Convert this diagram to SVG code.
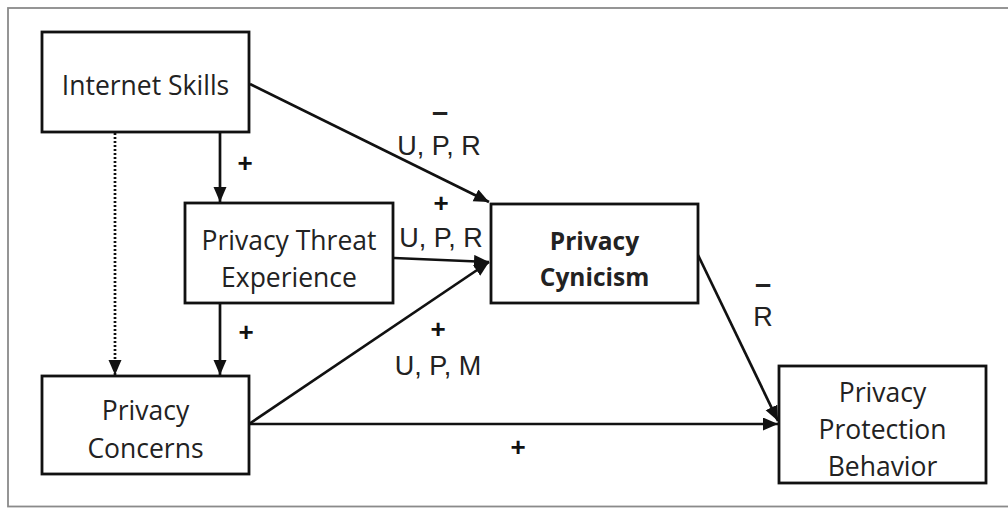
<svg xmlns="http://www.w3.org/2000/svg" width="1008" height="508" viewBox="0 0 1008 508">
<defs>
<marker id="ah" markerUnits="userSpaceOnUse" markerWidth="16" markerHeight="14" refX="15" refY="6.5" orient="auto">
<path d="M0,0 L15,6.5 L0,13 z" fill="#111"/>
</marker>
<style>
.box{fill:#fff;stroke:#111;stroke-width:2.8}
.t{font-family:"Open Sans","Noto Sans",sans-serif;font-size:26.5px;fill:#222;text-anchor:middle}
.tb{font-family:"Open Sans","Noto Sans",sans-serif;font-size:24.5px;font-weight:bold;fill:#222;text-anchor:middle}
.lbl{font-family:"Liberation Sans",Arial,sans-serif;font-size:27px;fill:#222;text-anchor:middle}
.mn{font-family:"Liberation Sans",Arial,sans-serif;font-size:29px;font-weight:bold;fill:#222;text-anchor:middle}
.sg{font-family:"Liberation Sans",Arial,sans-serif;font-size:26px;font-weight:bold;fill:#111;text-anchor:middle}
.c{stroke:#111;stroke-width:2.7;fill:none}
</style>
</defs>
<rect x="8" y="8" width="1010" height="498.5" fill="#fff" stroke="#8a8a8a" stroke-width="1.8"/>
<g id="connectors">
<line class="c" x1="250" y1="84" x2="489" y2="202" marker-end="url(#ah)"/>
<line class="c" x1="394" y1="258" x2="489" y2="262" marker-end="url(#ah)"/>
<line class="c" x1="249" y1="424" x2="489" y2="262" marker-end="url(#ah)"/>
<line class="c" x1="249" y1="424" x2="778" y2="424" marker-end="url(#ah)"/>
<line class="c" x1="698" y1="255" x2="778" y2="421" marker-end="url(#ah)"/>
<line class="c" x1="220" y1="133" x2="220" y2="202" marker-end="url(#ah)"/>
<line class="c" x1="220" y1="304" x2="220" y2="375" marker-end="url(#ah)"/>
<line class="c" x1="115" y1="133" x2="115" y2="375" stroke-width="3" stroke-dasharray="2,2" marker-end="url(#ah)"/>
<text class="mn" x="440" y="122">–</text>
<text class="lbl" x="439" y="155">U, P, R</text>
<text class="sg" x="441" y="212">+</text>
<text class="lbl" x="441" y="247">U, P, R</text>
<text class="sg" x="245" y="172">+</text>
<text class="sg" x="246" y="341">+</text>
<text class="sg" x="438" y="338">+</text>
<text class="lbl" x="438" y="375">U, P, M</text>
<text class="sg" x="518" y="456">+</text>
<text class="mn" x="763" y="294">–</text>
<text class="lbl" x="763" y="326">R</text>
</g>
<g id="internet-skills">
<rect class="box" x="42" y="32" width="207" height="100"/>
<text class="t" x="145.5" y="95">Internet Skills</text>
</g>
<g id="privacy-threat-experience">
<rect class="box" x="185" y="203" width="208" height="100"/>
<text class="t" x="289" y="250">Privacy Threat</text>
<text class="t" x="289" y="287">Experience</text>
</g>
<g id="privacy-concerns">
<rect class="box" x="42" y="376" width="207" height="98"/>
<text class="t" x="145.5" y="420">Privacy</text>
<text class="t" x="145.5" y="458">Concerns</text>
</g>
<g id="privacy-cynicism">
<rect class="box" x="491" y="204" width="207" height="99"/>
<text class="tb" x="594.5" y="250">Privacy</text>
<text class="tb" x="594.5" y="286">Cynicism</text>
</g>
<g id="privacy-protection-behavior">
<rect class="box" x="779" y="366" width="207" height="117"/>
<text class="t" x="882.5" y="402">Privacy</text>
<text class="t" x="882.5" y="439">Protection</text>
<text class="t" x="882.5" y="476">Behavior</text>
</g>
</svg>
